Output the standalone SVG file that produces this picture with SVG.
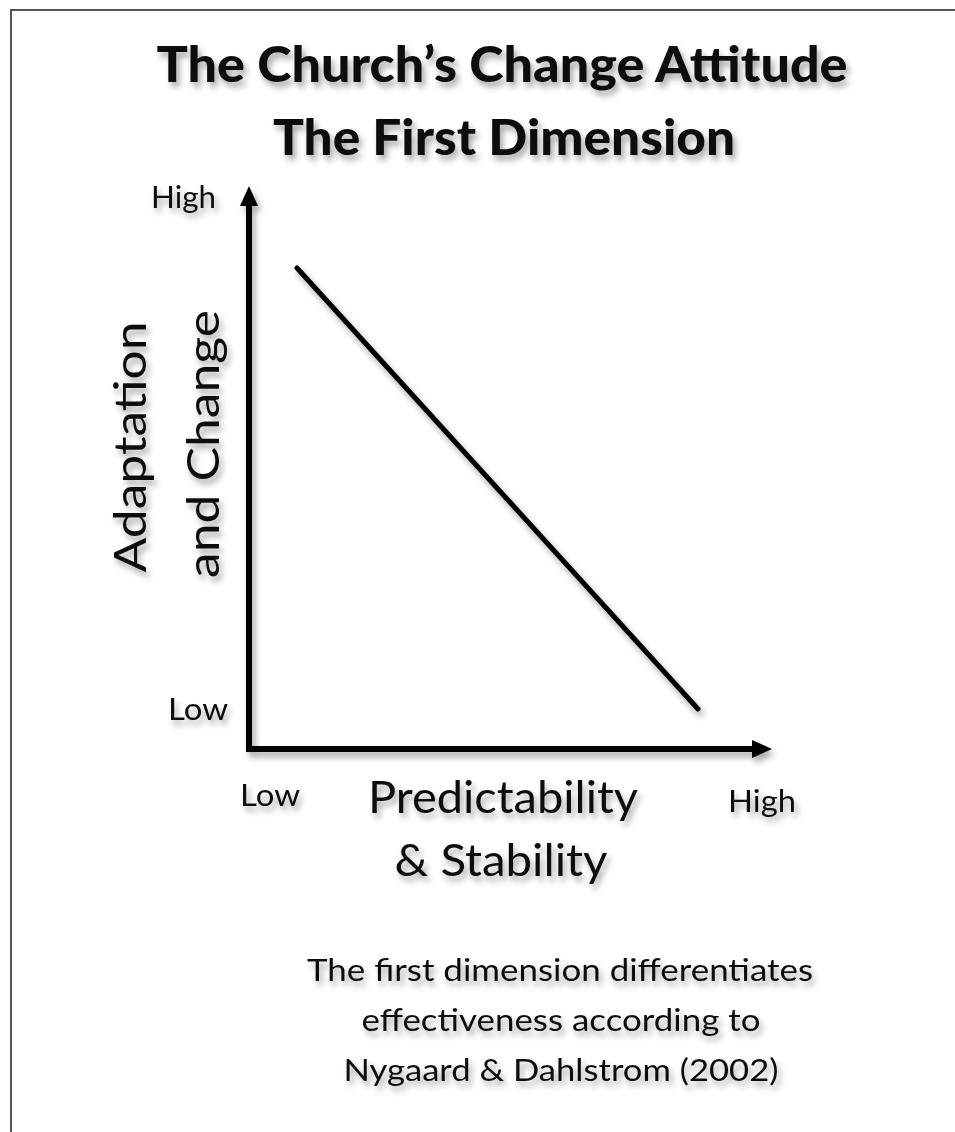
<svg xmlns="http://www.w3.org/2000/svg" width="955" height="1132" viewBox="0 0 955 1132">
  <style>
    .t { font-family: Lato, "Open Sans", "Liberation Sans", sans-serif; fill: #111; }
    .title { font-weight: 900; font-size: 50px; text-anchor: middle; }
    .tick { font-size: 31px; }
    .axis { font-size: 45px; text-anchor: middle; }
    .note { font-size: 30px; text-anchor: middle; }
    .ln { stroke: #000; fill: none; }
  </style>
  <defs>
    <filter id="sh" x="-20%" y="-20%" width="140%" height="160%">
      <feDropShadow dx="3" dy="5" stdDeviation="3" flood-color="#000" flood-opacity="0.35"/>
    </filter>
    <marker id="arr" viewBox="0 0 20 18" refX="1" refY="9" markerWidth="20" markerHeight="18" markerUnits="userSpaceOnUse" orient="auto">
      <path d="M0,0 L20,9 L0,18 Z" fill="#000"/>
    </marker>
  </defs>
  <rect width="955" height="1132" fill="#fff"/>
  <path d="M955,10 H11 V1132" fill="none" stroke="#555" stroke-width="2"/>

  <g id="title" filter="url(#sh)">
    <text class="t title" x="502" y="82" textLength="691" lengthAdjust="spacingAndGlyphs">The Church’s Change Attitude</text>
    <text class="t title" x="504" y="155" textLength="462" lengthAdjust="spacingAndGlyphs">The First Dimension</text>
  </g>

  <g id="connectors" filter="url(#sh)">
    <line class="ln" x1="249" y1="752" x2="249" y2="205" stroke-width="6" marker-end="url(#arr)"/>
    <line class="ln" x1="246" y1="749" x2="753" y2="749" stroke-width="6" marker-end="url(#arr)"/>
    <line class="ln" x1="297" y1="268" x2="698" y2="709" stroke-width="5" stroke-linecap="round"/>
  </g>

  <g id="y-axis-labels" filter="url(#sh)">
    <text class="t tick" x="216" y="208" text-anchor="end" textLength="65" lengthAdjust="spacingAndGlyphs">High</text>
    <text class="t tick" x="228" y="720" text-anchor="end" textLength="60" lengthAdjust="spacingAndGlyphs">Low</text>
    <text class="t axis" transform="translate(146,447) rotate(-90)" textLength="251" lengthAdjust="spacingAndGlyphs">Adaptation</text>
    <text class="t axis" transform="translate(219,444) rotate(-90)" textLength="268" lengthAdjust="spacingAndGlyphs">and Change</text>
  </g>

  <g id="x-axis-labels" filter="url(#sh)">
    <text class="t tick" x="240" y="806" textLength="60" lengthAdjust="spacingAndGlyphs">Low</text>
    <text class="t tick" x="728" y="812" textLength="68" lengthAdjust="spacingAndGlyphs">High</text>
    <text class="t axis" x="503" y="813" textLength="270" lengthAdjust="spacingAndGlyphs">Predictability</text>
    <text class="t axis" x="501" y="876" textLength="213" lengthAdjust="spacingAndGlyphs">&amp; Stability</text>
  </g>

  <g id="note" filter="url(#sh)">
    <text class="t note" x="560" y="981" textLength="506" lengthAdjust="spacingAndGlyphs">The first dimension differentiates</text>
    <text class="t note" x="561" y="1031" textLength="399" lengthAdjust="spacingAndGlyphs">effectiveness according to</text>
    <text class="t note" x="561" y="1081" textLength="435" lengthAdjust="spacingAndGlyphs">Nygaard &amp; Dahlstrom (2002)</text>
  </g>
</svg>
